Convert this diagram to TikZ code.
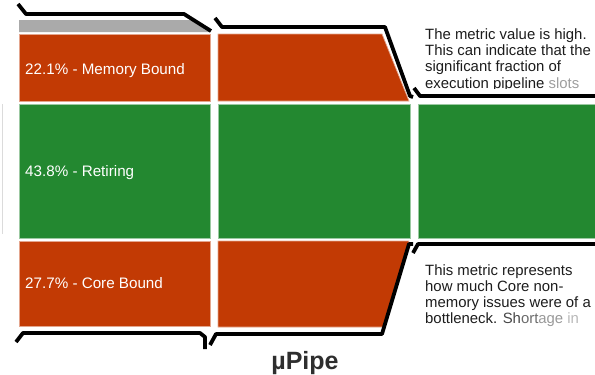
\documentclass[tikz,border=0pt]{standalone}
\usepackage{fontspec}
\setmainfont{Liberation Sans}
\definecolor{boundred}{RGB}{194,58,4}
\definecolor{retgreen}{RGB}{35,136,48}
\definecolor{capgray}{RGB}{170,170,170}
\definecolor{inktext}{RGB}{28,28,28}

\begin{document}
\begin{tikzpicture}[x=1pt,y=-1pt,
  redbar/.style={fill=boundred,draw=boundred!45!white,line width=0.7pt},
  greenbar/.style={fill=retgreen,draw=retgreen!45!white,line width=0.7pt},
  capbar/.style={fill=capgray,draw=none},
  pipewall/.style={line width=3.8pt,line join=round},
  barlabel/.style={text=white,anchor=base west,inner sep=0pt,font=\fontsize{15.2}{17}\selectfont},
  notetext/.style={text=inktext,anchor=base west,inner sep=0pt,font=\fontsize{14.9}{16}\selectfont}]

\useasboundingbox (0,0) rectangle (595,375);

% faint edge on the far left
\draw[black!14,line width=0.6pt] (2,104) -- (2,234);

% ---- first stage ----
\fill[capbar] (19,20) -- (192,20) -- (210,32) -- (19,32) -- cycle;
\draw[redbar]   (19,34)  rectangle (210,101);
\draw[greenbar] (19,104) rectangle (210,238);
\draw[redbar]   (19,241) rectangle (210,326);

% ---- second stage ----
\draw[redbar]   (218,34) -- (382,34) -- (409,101) -- (218,101) -- cycle;
\draw[greenbar] (218,104) rectangle (410,238);
\draw[redbar]   (218,241) -- (409,241) -- (383,327) -- (218,327) -- cycle;

% ---- third stage ----
\draw[greenbar] (418,104) rectangle (600,238);

% ---- pipe walls ----
\draw[pipewall] (18,4) -- (26,14) -- (184,14) -- (211,31);
\draw[pipewall] (16,342) -- (23,333) -- (200,333) -- (205,337) -- (205,349);
\draw[pipewall] (215,18) -- (222,27) -- (385,27) -- (410,96) -- (413,97);
\draw[pipewall] (210,345) -- (216,334) -- (382,334) -- (409,244) -- (413,244);
\draw[pipewall] (414,88) -- (420,96) -- (598,96);
\draw[pipewall] (413,253) -- (418,244) -- (598,244);

% ---- bar labels ----
\node[barlabel] (memlbl)  at (25,74)  {22.1\% - Memory Bound};
\node[barlabel] (retlbl)  at (25,176) {43.8\% - Retiring};
\node[barlabel] (corelbl) at (25,288) {27.7\% - Core Bound};

% ---- upper note ----
\node[notetext] (upA) at (425,39.5) {The metric value is high.};
\node[notetext] (upB) at (425,55.5) {This can indicate that the};
\node[notetext] (upC) at (425,71.5) {significant fraction of};
\begin{scope}
  \clip (415,75) rectangle (595,88.5);
  \node[notetext] (upD) at (425,88.5) {execution pipeline {\color{black!38}slots}};
\end{scope}

% ---- lower note ----
\node[notetext] (loA) at (425,275) {This metric represents};
\node[notetext] (loB) at (425,291) {how much Core non-};
\node[notetext] (loC) at (425,307) {memory issues were of a};
\node[notetext] (loD) at (425,323) {bottleneck. {\color{black!72}Sh}{\color{black!58}ort}{\color{black!40}age} {\color{black!28}in}};

% ---- title ----
\node[anchor=base,inner sep=0pt,text=black!82,font=\bfseries\fontsize{25}{27}\selectfont] (title) at (305,369) {µPipe};
\end{tikzpicture}
\end{document}
